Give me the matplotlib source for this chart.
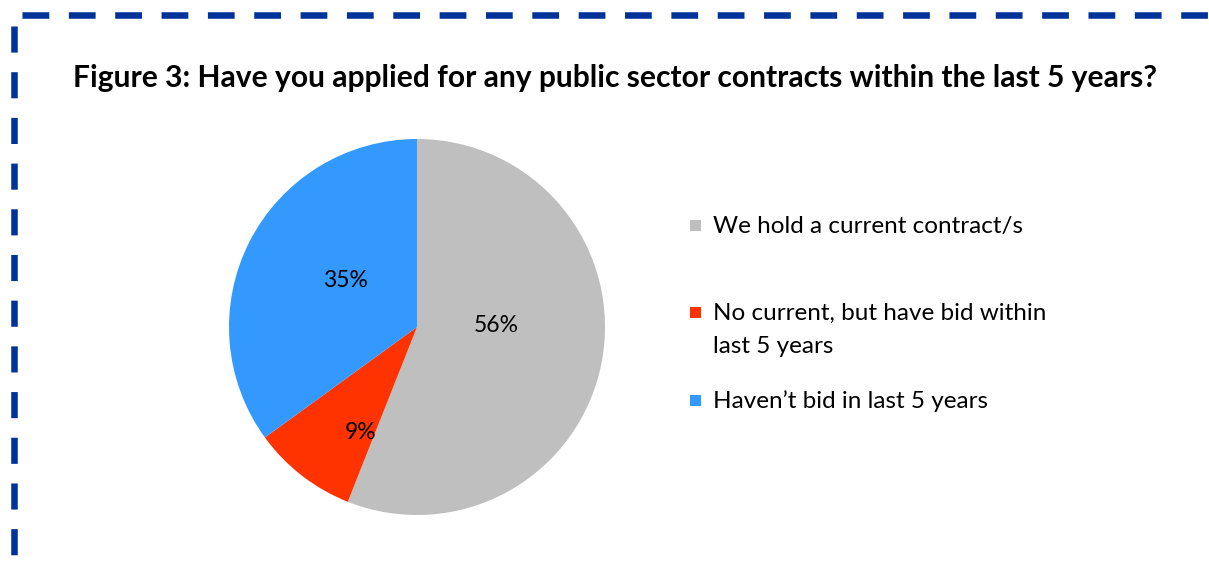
import matplotlib.pyplot as plt
from matplotlib.lines import Line2D
from matplotlib.patches import Rectangle

categories = ['We hold a current contract/s',
              'No current, but have bid within\nlast 5 years',
              'Haven\u2019t bid in last 5 years']
shares = [56, 9, 35]
colors = ['#BFBFBF', '#FF3300', '#3399FF']
title = 'Figure 3: Have you applied for any public sector contracts within the last 5 years?'

plt.rcParams['font.family'] = ['Lato', 'DejaVu Sans']

W, H = 1209, 571
fig = plt.figure(figsize=(W / 100, H / 100), dpi=100)

# dashed frame along the top and left edges
border = '#003399'
fig.add_artist(Line2D([22 / W, 1.0], [1 - 15 / H, 1 - 15 / H], transform=fig.transFigure,
                      color=border, lw=4.7, linestyle=(0, (4.1, 3.0)), dash_capstyle='butt'))
fig.add_artist(Line2D([13.5 / W, 13.5 / W], [1 - 26 / H, 0.0], transform=fig.transFigure,
                      color=border, lw=4.7, linestyle=(0, (4.0, 3.0)), dash_capstyle='butt'))

fig.text(615 / W, 1 - 78 / H, title, ha='center', va='center',
         fontsize=21.6, fontweight='bold', color='black')

# pie, clockwise from 12 o'clock
r = 188
ax = fig.add_axes([(417 - r) / W, (H - 327 - r) / H, 2 * r / W, 2 * r / H])
wedges, texts, autotexts = ax.pie(shares, colors=colors, startangle=90, counterclock=False,
                                  autopct='%d%%', pctdistance=0.5,
                                  wedgeprops=dict(linewidth=0),
                                  textprops=dict(fontsize=16.5, color='black'))
ax.set_aspect('equal')
ax.set_xlim(-1, 1)
ax.set_ylim(-1, 1)
autotexts[0].set_position((0.42, 0.01))
autotexts[1].set_position((-0.3, -0.56))
autotexts[2].set_position((-0.38, 0.25))

# legend: square marker beside the first line of each label
first_baselines = [233, 320, 408]
line_step = 33
for yb, lab, c in zip(first_baselines, categories, colors):
    fig.add_artist(Rectangle((690 / W, 1 - (yb - 2) / H), 11 / W, 11 / H,
                             transform=fig.transFigure, facecolor=c, edgecolor='none'))
    # va='baseline' pins the last line, so shift by the extra lines
    last = yb + line_step * lab.count('\n')
    fig.text(713 / W, 1 - last / H, lab, ha='left', va='baseline', fontsize=17.5,
             linespacing=1.7, color='black')

fig.savefig('out.png', dpi=100)
